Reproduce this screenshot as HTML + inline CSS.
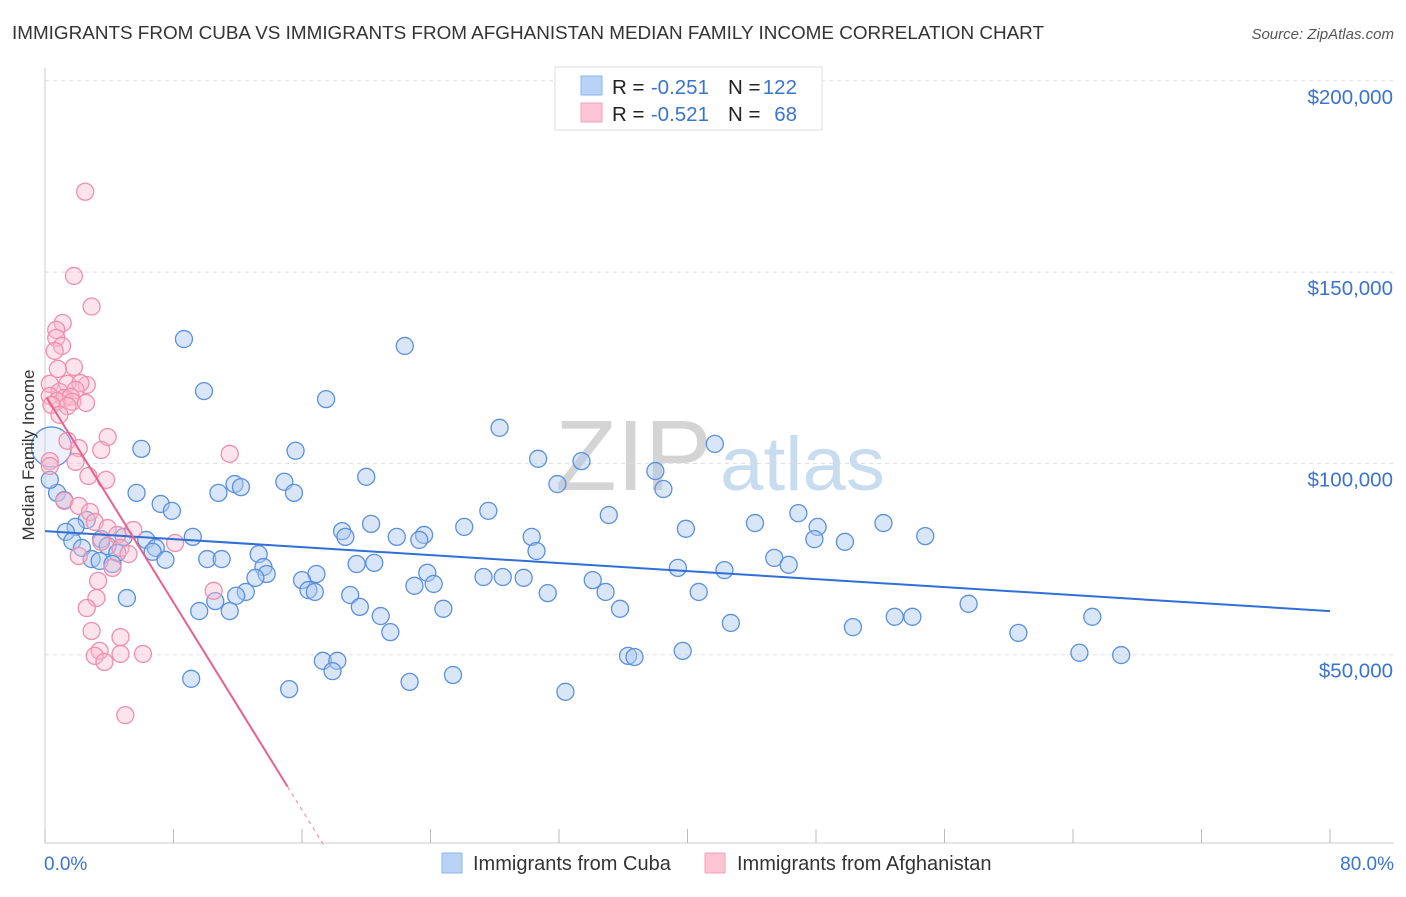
<!DOCTYPE html>
<html><head><meta charset="utf-8"><style>
body{margin:0;background:#fff;font-family:"Liberation Sans",sans-serif}
svg text{font-family:"Liberation Sans",sans-serif}
</style></head><body>
<svg id="chart" width="1406" height="892" xmlns="http://www.w3.org/2000/svg">
<text x="12" y="39" font-size="18.8" fill="#333" textLength="1032" lengthAdjust="spacingAndGlyphs">IMMIGRANTS FROM CUBA VS IMMIGRANTS FROM AFGHANISTAN MEDIAN FAMILY INCOME CORRELATION CHART</text>
<text x="1394" y="39" font-size="15" fill="#555" font-style="italic" text-anchor="end">Source: ZipAtlas.com</text>
<text x="555" y="490" font-size="100" fill="#d4d4d4" font-family="Liberation Serif" textLength="157" lengthAdjust="spacingAndGlyphs">ZIP</text>
<text x="720" y="490" font-size="76" fill="#c8dcf0" textLength="165" lengthAdjust="spacingAndGlyphs">atlas</text>
<g id="grid"></g>
<g id="axes"></g>
<g id="pts"></g>
<g id="lines"></g>
<text transform="translate(34,455) rotate(-90)" font-size="17" fill="#333" text-anchor="middle">Median Family Income</text>
<g>
<rect x="555" y="67" width="267" height="63" fill="#fff" stroke="#ddd"/>
<rect x="581" y="76" width="21" height="19" fill="#b8d3f5" stroke="#8ab4ea"/>
<rect x="581" y="103" width="21" height="19" fill="#fcc4d4" stroke="#f4a0b8"/>
<g font-size="20.5">
<text x="612" y="94" fill="#222">R =</text><text x="709" y="94" fill="#3a73d0" text-anchor="end">-0.251</text>
<text x="728" y="94" fill="#222">N =</text><text x="797" y="94" fill="#3a73d0" text-anchor="end">122</text></g>
<g font-size="20.5">
<text x="612" y="121" fill="#222">R =</text><text x="709" y="121" fill="#3a73d0" text-anchor="end">-0.521</text>
<text x="728" y="121" fill="#222">N =</text><text x="797" y="121" fill="#3a73d0" text-anchor="end">68</text></g>
</g>
<g>
<rect x="442" y="853" width="20" height="20" fill="#b8d3f5" stroke="#8ab4ea"/>
<text x="473" y="870" font-size="20" fill="#333">Immigrants from Cuba</text>
<rect x="705" y="853" width="20" height="20" fill="#fcc4d4" stroke="#f4a0b8"/>
<text x="737" y="870" font-size="20" fill="#333">Immigrants from Afghanistan</text>
</g>
</svg>
<script>
const yTicks=[50000,100000,150000,200000];
const yTickLabels=["$50,000","$100,000","$150,000","$200,000"];
const xTickLabels=["0.0%","80.0%"];
const cubaX=[8.65,22.4,9.9,17.5,28.3,41.7,6.0,15.6,30.7,33.4,38.0,20.0,14.9,11.8,12.2,31.9,38.5,5.7,10.8,15.5,0.75,1.2,7.2,7.9,27.6,35.1,46.9,44.2,52.2,20.3,26.1,48.1,39.9,2.6,1.9,1.3,18.5,18.7,54.8,21.9,23.6,23.3,30.3,9.2,47.9,49.8,4.9,6.3,3.5,1.7,3.9,6.9,6.7,2.3,30.6,4.5,13.3,45.4,2.9,3.4,10.1,11.0,7.5,4.2,20.5,19.4,46.3,39.4,42.3,13.6,23.8,13.8,16.9,27.3,28.5,29.8,34.1,13.1,16.0,24.2,23.0,16.4,16.8,40.7,31.3,34.9,12.5,11.9,19.0,5.1,10.6,57.5,9.6,19.6,24.8,11.5,35.8,20.9,52.9,54.0,65.2,42.7,50.3,21.5,60.6,64.4,67.0,39.7,36.3,36.7,17.3,18.2,17.9,25.4,9.1,22.7,15.2,32.4,0.4,0.3];
const cubaY=[132.5,130.7,118.9,116.8,109.3,105.1,103.8,103.3,101.2,100.6,98.0,96.5,95.2,94.6,93.8,94.6,93.3,92.3,92.3,92.3,92.3,90.4,89.4,87.6,87.6,86.5,87.0,84.4,84.4,84.2,83.4,83.4,82.9,85.2,83.4,82.1,82.3,80.8,81.0,80.8,81.3,80.0,80.8,80.8,80.2,79.5,80.8,80.0,80.2,79.7,78.4,77.9,76.9,77.9,77.1,76.6,76.3,75.3,75.0,74.5,75.0,75.0,74.8,73.7,74.0,73.7,73.5,72.7,72.1,72.9,71.4,71.1,71.1,70.3,70.3,70.1,69.5,70.1,69.5,68.5,68.0,66.9,66.4,66.4,66.1,66.4,66.4,65.4,65.6,64.8,64.0,63.3,61.4,62.5,62.0,61.4,62.0,60.1,59.9,59.9,59.9,58.3,57.2,55.9,55.7,50.5,49.9,51.0,49.7,49.4,48.4,48.4,45.7,44.7,43.7,42.9,41.0,40.3,104.3,95.7];
const afgX=[2.5,1.8,2.9,1.1,0.7,0.7,1.06,0.6,1.8,0.8,0.3,1.4,2.6,2.2,0.9,1.9,0.3,1.2,1.6,0.75,1.7,2.55,1.4,0.4,0.9,3.9,1.4,2.1,3.5,11.5,1.9,0.3,0.3,2.7,3.8,1.2,2.1,2.8,3.1,3.9,5.5,4.5,3.5,4.7,5.2,2.1,4.2,3.3,10.5,3.2,2.6,2.9,4.7,6.1,4.7,3.4,3.1,3.7,5.0,8.1];
const afgY=[171,149,141,136.7,134.9,132.8,130.7,129.4,125.2,124.7,120.8,120.8,120.5,121.0,118.7,119.2,117.6,117.1,117.4,116.3,116.1,115.8,115.0,115.3,112.7,106.9,105.9,104.0,103.5,102.5,100.4,100.6,99.3,96.7,95.7,90.2,88.9,87.3,84.7,83.1,82.6,81.3,79.5,77.9,76.3,75.8,72.7,69.3,66.7,64.8,62.2,56.2,54.6,50.2,50.2,51.0,49.7,48.1,34.2,79.2];
const cubaTrend=[82.3,61.4];
const afgTrend=[117.9,-6.78];
const NS="http://www.w3.org/2000/svg";
const X=p=>45+p*1285/80, Y=v=>846-v*191.3/50000;
function mk(t,a,parent){const e=document.createElementNS(NS,t);for(const k in a)e.setAttribute(k,a[k]);document.getElementById(parent).appendChild(e);return e;}
yTicks.forEach((v,i)=>{
 const g=mk('line',{x1:45,x2:1394,y1:Y(v),y2:Y(v),stroke:'#ddd','stroke-dasharray':'4,4'},'grid');
 
 
 const t=mk('text',{x:1393,y:Y(v)+23,'font-size':20.5,fill:'#3a73d0','text-anchor':'end'},'axes');
 t.textContent=yTickLabels[i];
 
 
});
const ax=mk('line',{x1:45,x2:1394,y1:843,y2:843,stroke:'#ccc'},'axes');


const ay=mk('line',{x1:45,x2:45,y1:68,y2:843,stroke:'#ccc'},'axes');


for(let i=0;i<=10;i++){const tk=mk('line',{x1:X(i*8),x2:X(i*8),y1:829,y2:843,stroke:'#bbb'},'axes');
 
 }
[[0,'start',44],[80,'end',1394]].forEach((d,i)=>{const t=mk('text',{x:d[2],y:870,'font-size':19,fill:'#3a73d0','text-anchor':d[1]},'axes');t.textContent=xTickLabels[i];
 
 });
cubaX.forEach((x,i)=>{const big=(i==cubaX.length-2);const c=mk('circle',{cx:X(x),cy:Y(cubaY[i]*1000),r:big?20:8.5,fill:big?'rgba(200,215,245,0.35)':'rgba(170,200,240,0.45)',stroke:'#5b90de','stroke-width':1.3},'pts');
 
 });
afgX.forEach((x,i)=>{const c=mk('circle',{cx:X(x),cy:Y(afgY[i]*1000),r:8.5,fill:'rgba(250,185,205,0.4)',stroke:'#ef8fac','stroke-width':1.3},'pts');
 
 });
const bl=mk('line',{x1:X(0),y1:Y(cubaTrend[0]*1000),x2:X(80),y2:Y(cubaTrend[1]*1000),stroke:'#2f6fd6','stroke-width':2},'lines');


const pf=x=>(afgTrend[0]+afgTrend[1]*x)*1000;
const pl=mk('line',{x1:X(0.1),y1:Y(pf(0.1)),x2:X(15.1),y2:Y(pf(15.1)),stroke:'#e8608c','stroke-width':2},'lines');


const xe=-afgTrend[0]/afgTrend[1];
const pd=mk('line',{x1:X(15.1),y1:Y(pf(15.1)),x2:X(xe),y2:Y(0),stroke:'#e8a0b8','stroke-width':1.3,'stroke-dasharray':'4,4'},'lines');


</script>
</body></html>
